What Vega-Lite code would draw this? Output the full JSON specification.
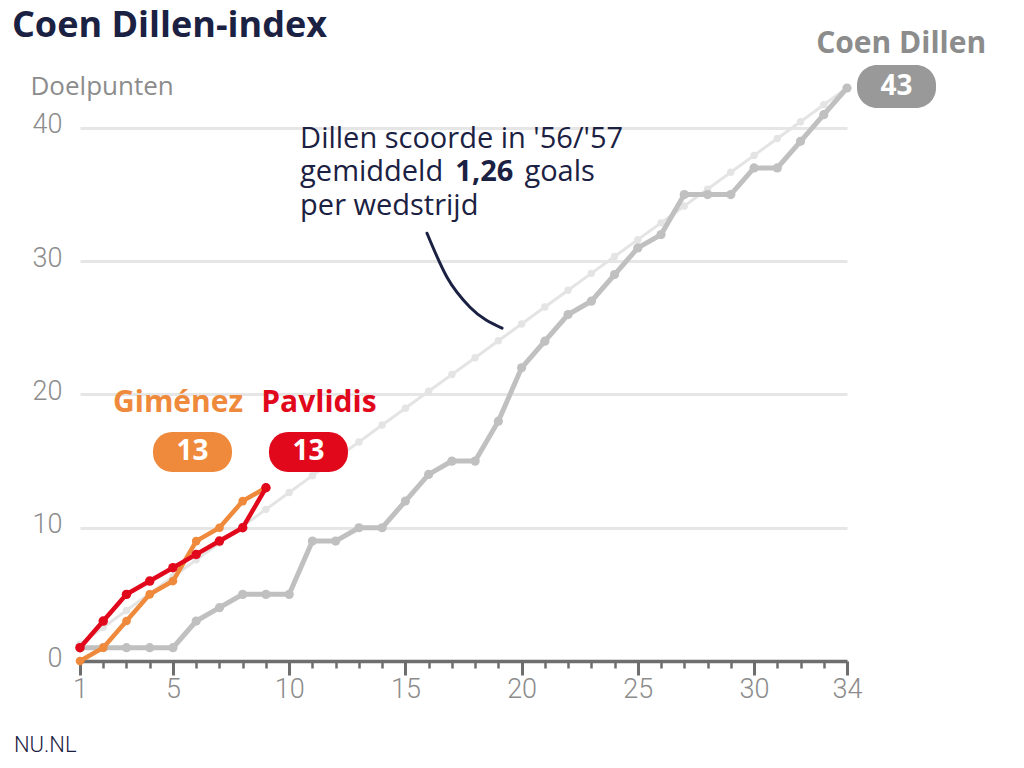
{
  "$schema": "https://vega.github.io/schema/vega-lite/v6.json",
  "width": 767,
  "height": 573,
  "autosize": {"type": "none"},
  "padding": {"left": 80, "top": 88, "right": 177, "bottom": 107},
  "background": "white",
  "config": {"view": {"stroke": null}, "font": "Open Sans"},
  "datasets": {
    "doelpunten": [
      {"speler": "Gemiddelde", "wedstrijd": 1, "goals": 1.26},
      {"speler": "Gemiddelde", "wedstrijd": 2, "goals": 2.53},
      {"speler": "Gemiddelde", "wedstrijd": 3, "goals": 3.79},
      {"speler": "Gemiddelde", "wedstrijd": 4, "goals": 5.06},
      {"speler": "Gemiddelde", "wedstrijd": 5, "goals": 6.32},
      {"speler": "Gemiddelde", "wedstrijd": 6, "goals": 7.59},
      {"speler": "Gemiddelde", "wedstrijd": 7, "goals": 8.85},
      {"speler": "Gemiddelde", "wedstrijd": 8, "goals": 10.12},
      {"speler": "Gemiddelde", "wedstrijd": 9, "goals": 11.38},
      {"speler": "Gemiddelde", "wedstrijd": 10, "goals": 12.65},
      {"speler": "Gemiddelde", "wedstrijd": 11, "goals": 13.91},
      {"speler": "Gemiddelde", "wedstrijd": 12, "goals": 15.18},
      {"speler": "Gemiddelde", "wedstrijd": 13, "goals": 16.44},
      {"speler": "Gemiddelde", "wedstrijd": 14, "goals": 17.71},
      {"speler": "Gemiddelde", "wedstrijd": 15, "goals": 18.97},
      {"speler": "Gemiddelde", "wedstrijd": 16, "goals": 20.24},
      {"speler": "Gemiddelde", "wedstrijd": 17, "goals": 21.5},
      {"speler": "Gemiddelde", "wedstrijd": 18, "goals": 22.76},
      {"speler": "Gemiddelde", "wedstrijd": 19, "goals": 24.03},
      {"speler": "Gemiddelde", "wedstrijd": 20, "goals": 25.29},
      {"speler": "Gemiddelde", "wedstrijd": 21, "goals": 26.56},
      {"speler": "Gemiddelde", "wedstrijd": 22, "goals": 27.82},
      {"speler": "Gemiddelde", "wedstrijd": 23, "goals": 29.09},
      {"speler": "Gemiddelde", "wedstrijd": 24, "goals": 30.35},
      {"speler": "Gemiddelde", "wedstrijd": 25, "goals": 31.62},
      {"speler": "Gemiddelde", "wedstrijd": 26, "goals": 32.88},
      {"speler": "Gemiddelde", "wedstrijd": 27, "goals": 34.15},
      {"speler": "Gemiddelde", "wedstrijd": 28, "goals": 35.41},
      {"speler": "Gemiddelde", "wedstrijd": 29, "goals": 36.68},
      {"speler": "Gemiddelde", "wedstrijd": 30, "goals": 37.94},
      {"speler": "Gemiddelde", "wedstrijd": 31, "goals": 39.21},
      {"speler": "Gemiddelde", "wedstrijd": 32, "goals": 40.47},
      {"speler": "Gemiddelde", "wedstrijd": 33, "goals": 41.74},
      {"speler": "Gemiddelde", "wedstrijd": 34, "goals": 43},
      {"speler": "Coen Dillen", "wedstrijd": 1, "goals": 1},
      {"speler": "Coen Dillen", "wedstrijd": 2, "goals": 1},
      {"speler": "Coen Dillen", "wedstrijd": 3, "goals": 1},
      {"speler": "Coen Dillen", "wedstrijd": 4, "goals": 1},
      {"speler": "Coen Dillen", "wedstrijd": 5, "goals": 1},
      {"speler": "Coen Dillen", "wedstrijd": 6, "goals": 3},
      {"speler": "Coen Dillen", "wedstrijd": 7, "goals": 4},
      {"speler": "Coen Dillen", "wedstrijd": 8, "goals": 5},
      {"speler": "Coen Dillen", "wedstrijd": 9, "goals": 5},
      {"speler": "Coen Dillen", "wedstrijd": 10, "goals": 5},
      {"speler": "Coen Dillen", "wedstrijd": 11, "goals": 9},
      {"speler": "Coen Dillen", "wedstrijd": 12, "goals": 9},
      {"speler": "Coen Dillen", "wedstrijd": 13, "goals": 10},
      {"speler": "Coen Dillen", "wedstrijd": 14, "goals": 10},
      {"speler": "Coen Dillen", "wedstrijd": 15, "goals": 12},
      {"speler": "Coen Dillen", "wedstrijd": 16, "goals": 14},
      {"speler": "Coen Dillen", "wedstrijd": 17, "goals": 15},
      {"speler": "Coen Dillen", "wedstrijd": 18, "goals": 15},
      {"speler": "Coen Dillen", "wedstrijd": 19, "goals": 18},
      {"speler": "Coen Dillen", "wedstrijd": 20, "goals": 22},
      {"speler": "Coen Dillen", "wedstrijd": 21, "goals": 24},
      {"speler": "Coen Dillen", "wedstrijd": 22, "goals": 26},
      {"speler": "Coen Dillen", "wedstrijd": 23, "goals": 27},
      {"speler": "Coen Dillen", "wedstrijd": 24, "goals": 29},
      {"speler": "Coen Dillen", "wedstrijd": 25, "goals": 31},
      {"speler": "Coen Dillen", "wedstrijd": 26, "goals": 32},
      {"speler": "Coen Dillen", "wedstrijd": 27, "goals": 35},
      {"speler": "Coen Dillen", "wedstrijd": 28, "goals": 35},
      {"speler": "Coen Dillen", "wedstrijd": 29, "goals": 35},
      {"speler": "Coen Dillen", "wedstrijd": 30, "goals": 37},
      {"speler": "Coen Dillen", "wedstrijd": 31, "goals": 37},
      {"speler": "Coen Dillen", "wedstrijd": 32, "goals": 39},
      {"speler": "Coen Dillen", "wedstrijd": 33, "goals": 41},
      {"speler": "Coen Dillen", "wedstrijd": 34, "goals": 43},
      {"speler": "Giménez", "wedstrijd": 1, "goals": 0},
      {"speler": "Giménez", "wedstrijd": 2, "goals": 1},
      {"speler": "Giménez", "wedstrijd": 3, "goals": 3},
      {"speler": "Giménez", "wedstrijd": 4, "goals": 5},
      {"speler": "Giménez", "wedstrijd": 5, "goals": 6},
      {"speler": "Giménez", "wedstrijd": 6, "goals": 9},
      {"speler": "Giménez", "wedstrijd": 7, "goals": 10},
      {"speler": "Giménez", "wedstrijd": 8, "goals": 12},
      {"speler": "Giménez", "wedstrijd": 9, "goals": 13},
      {"speler": "Pavlidis", "wedstrijd": 1, "goals": 1},
      {"speler": "Pavlidis", "wedstrijd": 2, "goals": 3},
      {"speler": "Pavlidis", "wedstrijd": 3, "goals": 5},
      {"speler": "Pavlidis", "wedstrijd": 4, "goals": 6},
      {"speler": "Pavlidis", "wedstrijd": 5, "goals": 7},
      {"speler": "Pavlidis", "wedstrijd": 6, "goals": 8},
      {"speler": "Pavlidis", "wedstrijd": 7, "goals": 9},
      {"speler": "Pavlidis", "wedstrijd": 8, "goals": 10},
      {"speler": "Pavlidis", "wedstrijd": 9, "goals": 13}
    ],
    "verbinder": [
      {"wedstrijd": 15.93, "goals": 32.1},
      {"wedstrijd": 16.79, "goals": 28.8},
      {"wedstrijd": 17.78, "goals": 26.55},
      {"wedstrijd": 19.16, "goals": 24.98}
    ]
  },
  "data": {"name": "doelpunten"},
  "resolve": {"axis": {"x": "independent"}},
  "layer": [
    {
      "transform": [{"filter": "datum.speler === 'Gemiddelde'"}],
      "mark": {"type": "line", "color": "#e4e4e4", "strokeWidth": 3, "point": {"filled": true, "color": "#e4e4e4", "size": 55}},
      "encoding": {
        "x": {"field": "wedstrijd", "type": "quantitative", "scale": {"domain": [1, 34], "nice": false, "zero": false},
          "axis": {"orient": "bottom", "values": [1, 5, 10, 15, 20, 25, 30, 34], "title": null, "grid": false, "domainColor": "#6e6e6e", "domainWidth": 3.5, "tickColor": "#6e6e6e", "tickWidth": 3, "tickSize": 14, "labelFont": "Roboto", "labelFontWeight": 300, "labelFontSize": 27, "labelColor": "#8c8c8c", "labelPadding": 1, "labelFlush": false}},
        "y": {"field": "goals", "type": "quantitative", "scale": {"domain": [0, 43], "nice": false},
          "axis": {"values": [0, 10, 20, 30, 40], "grid": true, "gridColor": "#e6e6e6", "gridWidth": 3, "domain": false, "ticks": false, "labelPadding": 18, "labelFont": "Roboto", "labelFontWeight": 300, "labelFontSize": 27, "labelColor": "#8c8c8c", "labelBaseline": "middle", "labelOffset": -3,
            "title": "Doelpunten", "titleAngle": 0, "titleAlign": "left", "titleBaseline": "alphabetic", "titleX": -50, "titleY": 6, "titleFontSize": 26, "titleFontWeight": "normal", "titleColor": "#8c8c8c", "titleFont": "Open Sans"}}
      }
    },
    {
      "transform": [{"filter": "datum.speler === 'Coen Dillen'"}],
      "mark": {"type": "line", "color": "#c0c0c0", "strokeWidth": 5, "point": {"filled": true, "color": "#c0c0c0", "size": 85}},
      "encoding": {
        "x": {"field": "wedstrijd", "type": "quantitative",
          "axis": {"orient": "bottom", "values": [2, 3, 4, 6, 7, 8, 9, 11, 12, 13, 14, 16, 17, 18, 19, 21, 22, 23, 24, 26, 27, 28, 29, 31, 32, 33], "labels": false, "domain": false, "grid": false, "title": null, "tickColor": "#6e6e6e", "tickWidth": 2.5, "tickSize": 7}},
        "y": {"field": "goals", "type": "quantitative"}
      }
    },
    {
      "transform": [{"filter": "datum.speler === 'Giménez'"}],
      "mark": {"type": "line", "color": "#ef8a3c", "strokeWidth": 4.5, "point": {"filled": true, "color": "#ef8a3c", "size": 75}},
      "encoding": {
        "x": {"field": "wedstrijd", "type": "quantitative", "axis": null},
        "y": {"field": "goals", "type": "quantitative"}
      }
    },
    {
      "transform": [{"filter": "datum.speler === 'Pavlidis'"}],
      "mark": {"type": "line", "color": "#e1081c", "strokeWidth": 4.5, "point": {"filled": true, "color": "#e1081c", "size": 90}},
      "encoding": {
        "x": {"field": "wedstrijd", "type": "quantitative", "axis": null},
        "y": {"field": "goals", "type": "quantitative"}
      }
    },
    {
      "data": {"name": "verbinder"},
      "mark": {"type": "line", "color": "#1b2142", "strokeWidth": 3, "interpolate": "monotone", "strokeCap": "round"},
      "encoding": {
        "x": {"field": "wedstrijd", "type": "quantitative", "axis": null},
        "y": {"field": "goals", "type": "quantitative"}
      }
    },
    {
      "data": {"values": [{"titel": "Coen Dillen-index"}]},
      "mark": {"type": "text", "color": "#1b2142", "fontSize": 36, "fontWeight": "bold", "align": "left", "baseline": "alphabetic", "font": "Open Sans"},
      "encoding": {"x": {"datum": -1.93, "type": "quantitative", "axis": null}, "y": {"datum": 46.83, "type": "quantitative"}, "text": {"field": "titel"}}
    },
    {
      "data": {"values": [{"label": "Giménez"}]},
      "mark": {"type": "text", "color": "#ef8a3c", "fontSize": 30, "fontWeight": "bold", "align": "center", "baseline": "middle", "font": "Open Sans"},
      "encoding": {"x": {"datum": 5.22, "type": "quantitative", "axis": null}, "y": {"datum": 19.35, "type": "quantitative"}, "text": {"field": "label"}}
    },
    {
      "data": {"values": [{"label": "Pavlidis"}]},
      "mark": {"type": "text", "color": "#e1081c", "fontSize": 30, "fontWeight": "bold", "align": "center", "baseline": "middle", "font": "Open Sans"},
      "encoding": {"x": {"datum": 11.28, "type": "quantitative", "axis": null}, "y": {"datum": 19.35, "type": "quantitative"}, "text": {"field": "label"}}
    },
    {
      "data": {"values": [{"label": "Coen Dillen"}]},
      "mark": {"type": "text", "color": "#8c8c8c", "fontSize": 30, "fontWeight": "bold", "align": "center", "baseline": "middle", "font": "Open Sans"},
      "encoding": {"x": {"datum": 36.33, "type": "quantitative", "axis": null}, "y": {"datum": 46.3, "type": "quantitative"}, "text": {"field": "label"}}
    },
    {
      "data": {"values": [{"totaal": 13}]},
      "mark": {"type": "rect", "color": "#ef8a3c", "cornerRadius": 19},
      "encoding": {"x": {"datum": 4.14, "type": "quantitative", "axis": null}, "x2": {"datum": 7.54}, "y": {"datum": 14.18, "type": "quantitative"}, "y2": {"datum": 17.18}}
    },
    {
      "data": {"values": [{"totaal": 13}]},
      "mark": {"type": "rect", "color": "#e1081c", "cornerRadius": 19},
      "encoding": {"x": {"datum": 9.13, "type": "quantitative", "axis": null}, "x2": {"datum": 12.53}, "y": {"datum": 14.18, "type": "quantitative"}, "y2": {"datum": 17.18}}
    },
    {
      "data": {"values": [{"totaal": 43}]},
      "mark": {"type": "rect", "color": "#999999", "cornerRadius": 20},
      "encoding": {"x": {"datum": 34.43, "type": "quantitative", "axis": null}, "x2": {"datum": 37.83}, "y": {"datum": 41.5, "type": "quantitative"}, "y2": {"datum": 44.72}}
    },
    {
      "data": {"values": [{"totaal": 13}]},
      "mark": {"type": "text", "color": "white", "fontSize": 28, "fontWeight": "bold", "align": "center", "baseline": "middle", "font": "Open Sans"},
      "encoding": {"x": {"datum": 5.84, "type": "quantitative", "axis": null}, "y": {"datum": 15.68, "type": "quantitative"}, "text": {"field": "totaal"}}
    },
    {
      "data": {"values": [{"totaal": 13}]},
      "mark": {"type": "text", "color": "white", "fontSize": 28, "fontWeight": "bold", "align": "center", "baseline": "middle", "font": "Open Sans"},
      "encoding": {"x": {"datum": 10.83, "type": "quantitative", "axis": null}, "y": {"datum": 15.68, "type": "quantitative"}, "text": {"field": "totaal"}}
    },
    {
      "data": {"values": [{"totaal": 43}]},
      "mark": {"type": "text", "color": "white", "fontSize": 28, "fontWeight": "bold", "align": "center", "baseline": "middle", "font": "Open Sans"},
      "encoding": {"x": {"datum": 36.13, "type": "quantitative", "axis": null}, "y": {"datum": 43.1, "type": "quantitative"}, "text": {"field": "totaal"}}
    },
    {
      "data": {"values": [{"regel": "Dillen scoorde in '56/'57", "goals": 38.5}, {"regel": "gemiddeld", "goals": 36.0}, {"regel": "per wedstrijd", "goals": 33.5}]},
      "mark": {"type": "text", "color": "#1b2142", "fontSize": 29, "align": "left", "baseline": "alphabetic", "font": "Open Sans"},
      "encoding": {"x": {"datum": 10.47, "type": "quantitative", "axis": null}, "y": {"field": "goals", "type": "quantitative"}, "text": {"field": "regel"}}
    },
    {
      "data": {"values": [{"regel": "1,26"}]},
      "mark": {"type": "text", "color": "#1b2142", "fontSize": 29, "fontWeight": "bold", "align": "left", "baseline": "alphabetic", "font": "Open Sans"},
      "encoding": {"x": {"datum": 17.15, "type": "quantitative", "axis": null}, "y": {"datum": 36.0, "type": "quantitative"}, "text": {"field": "regel"}}
    },
    {
      "data": {"values": [{"regel": "goals"}]},
      "mark": {"type": "text", "color": "#1b2142", "fontSize": 29, "align": "left", "baseline": "alphabetic", "font": "Open Sans"},
      "encoding": {"x": {"datum": 20.12, "type": "quantitative", "axis": null}, "y": {"datum": 36.0, "type": "quantitative"}, "text": {"field": "regel"}}
    },
    {
      "data": {"values": [{"bron": "NU.NL"}]},
      "mark": {"type": "text", "color": "#1b2142", "fontSize": 22, "fontWeight": 300, "align": "left", "baseline": "middle", "font": "Roboto"},
      "encoding": {"x": {"datum": -1.84, "type": "quantitative", "axis": null}, "y": {"datum": -6.3, "type": "quantitative"}, "text": {"field": "bron"}}
    }
  ]
}
